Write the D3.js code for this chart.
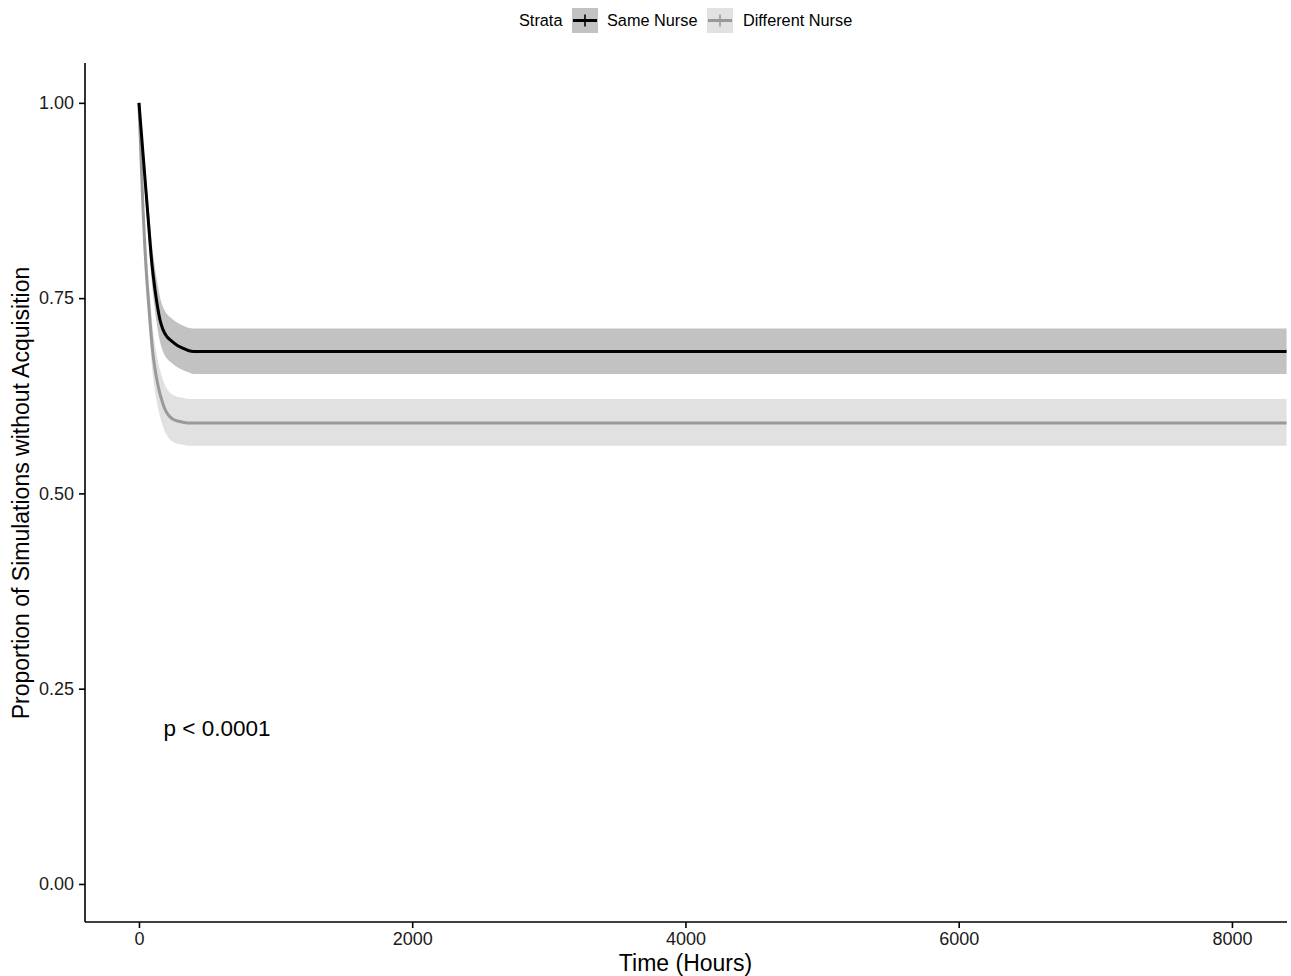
<!DOCTYPE html>
<html>
<head>
<meta charset="utf-8">
<script src="https://cdn.jsdelivr.net/npm/d3@7/dist/d3.min.js"></script>
<style>
  html, body { margin: 0; padding: 0; background: #fff; }
  svg { display: block; font-family: "Liberation Sans", Arial, Helvetica, sans-serif; }
</style>
</head>
<body>
<svg id="chart" width="1291" height="976"></svg>
<script>
// ---- data ----
const strata = ["Same Nurse", "Different Nurse"];

const sameTime  = [0, 25, 50, 75, 93, 105, 117, 135, 154, 175, 203, 240, 276, 320, 360, 400, 8400];
const sameSurv  = [1.0, 0.945, 0.89, 0.835, 0.797, 0.778, 0.761, 0.740, 0.722, 0.710, 0.701, 0.695, 0.690, 0.686, 0.683, 0.6816, 0.6816];
const sameUpper = [1.0, 0.960, 0.910, 0.858, 0.822, 0.805, 0.789, 0.769, 0.751, 0.739, 0.730, 0.724, 0.719, 0.715, 0.712, 0.711, 0.711];
const sameLower = [1.0, 0.930, 0.870, 0.812, 0.772, 0.752, 0.734, 0.712, 0.694, 0.682, 0.673, 0.667, 0.662, 0.658, 0.655, 0.653, 0.653];

const diffTime  = [0, 15, 31, 44, 55, 68, 80, 93, 105, 117, 135, 150, 166, 185, 205, 227, 260, 300, 373, 8400];
const diffSurv  = [1.0, 0.93, 0.859, 0.812, 0.780, 0.750, 0.722, 0.695, 0.675, 0.660, 0.642, 0.630, 0.620, 0.610, 0.603, 0.598, 0.594, 0.592, 0.590, 0.590];
const diffUpper = [1.0, 0.945, 0.882, 0.838, 0.808, 0.779, 0.752, 0.726, 0.706, 0.691, 0.673, 0.661, 0.651, 0.641, 0.634, 0.629, 0.625, 0.623, 0.621, 0.621];
const diffLower = [1.0, 0.915, 0.836, 0.787, 0.753, 0.722, 0.694, 0.666, 0.646, 0.631, 0.613, 0.601, 0.591, 0.581, 0.574, 0.569, 0.565, 0.563, 0.561, 0.561];

const xTicks = [0, 2000, 4000, 6000, 8000];
const yTicks = [0, 0.25, 0.5, 0.75, 1.0];
const pText = "p < 0.0001";
const pPos = [180, 0.19];

// ---- layout ----
const svg = d3.select("#chart");
const x = d3.scaleLinear().domain([-395, 8403]).range([85, 1287]);
const y = d3.scaleLinear().domain([-0.0487, 1.051]).range([922, 63]);

const colors = { line: ["#000000", "#999999"], fill: ["#c2c2c2", "#e1e1e1"] };

const series = [
  { t: sameTime, s: sameSurv, u: sameUpper, l: sameLower },
  { t: diffTime, s: diffSurv, u: diffUpper, l: diffLower }
].map(d => d.t.map((t, i) => ({ t, s: d.s[i], u: d.u[i], l: d.l[i] })));

const area = d3.area().x(d => x(d.t)).y0(d => y(d.l)).y1(d => y(d.u)).curve(d3.curveMonotoneX);
const line = d3.line().x(d => x(d.t)).y(d => y(d.s)).curve(d3.curveMonotoneX);

[1, 0].forEach(i => {
  svg.append("path").datum(series[i]).attr("d", area).attr("fill", colors.fill[i]).attr("stroke", "none");
});
[1, 0].forEach(i => {
  svg.append("path").datum(series[i]).attr("d", line).attr("fill", "none")
    .attr("stroke", colors.line[i]).attr("stroke-width", 3).attr("stroke-linejoin", "round");
});

// axes
const xAxis = svg.append("g").attr("transform", "translate(0,922)")
  .call(d3.axisBottom(x).tickValues(xTicks).tickFormat(d3.format("d")).tickSizeOuter(0).tickSize(6).tickPadding(4));
const yAxis = svg.append("g").attr("transform", "translate(85,0)")
  .call(d3.axisLeft(y).tickValues(yTicks).tickFormat(d3.format(".2f")).tickSizeOuter(0).tickSize(6).tickPadding(5));
[xAxis, yAxis].forEach(g => {
  g.select(".domain").attr("stroke", "#000").attr("stroke-width", 1.6);
  g.selectAll(".tick line").attr("stroke", "#000").attr("stroke-width", 1.6);
  g.selectAll(".tick text").attr("fill", "#1a1a1a").attr("font-size", 18)
    .style("font-family", '"Liberation Sans", Arial, sans-serif');
});
xAxis.select(".domain").attr("d", `M${85},0H${1287}`);
yAxis.select(".domain").attr("d", `M0,${63}V${922}`);

// axis titles
svg.append("text").attr("x", 685.5).attr("y", 971).attr("text-anchor", "middle")
  .attr("font-size", 23).attr("fill", "#000").text("Time (Hours)");
svg.append("text").attr("transform", "translate(29,493) rotate(-90)").attr("text-anchor", "middle")
  .attr("font-size", 23).attr("fill", "#000").text("Proportion of Simulations without Acquisition");

// p value
svg.append("text").attr("x", x(pPos[0])).attr("y", y(pPos[1]))
  .attr("font-size", 22.5).attr("fill", "#000").text(pText);

// legend
const leg = svg.append("g");
leg.append("text").attr("x", 519).attr("y", 26).attr("font-size", 16.3).attr("fill", "#000").text("Strata");
const keyX = [572, 707], labX = [607, 743];
strata.forEach((name, i) => {
  leg.append("rect").attr("x", keyX[i]).attr("y", 8).attr("width", 26).attr("height", 25).attr("fill", colors.fill[i]);
  leg.append("line").attr("x1", keyX[i] + 1).attr("x2", keyX[i] + 25).attr("y1", 20.5).attr("y2", 20.5)
    .attr("stroke", colors.line[i]).attr("stroke-width", 3);
  leg.append("line").attr("x1", keyX[i] + 13).attr("x2", keyX[i] + 13).attr("y1", 14.5).attr("y2", 26.5)
    .attr("stroke", colors.line[i]).attr("stroke-width", 1.6);
  leg.append("text").attr("x", labX[i]).attr("y", 26).attr("font-size", 16.3).attr("fill", "#000").text(name);
});
</script>
</body>
</html>
